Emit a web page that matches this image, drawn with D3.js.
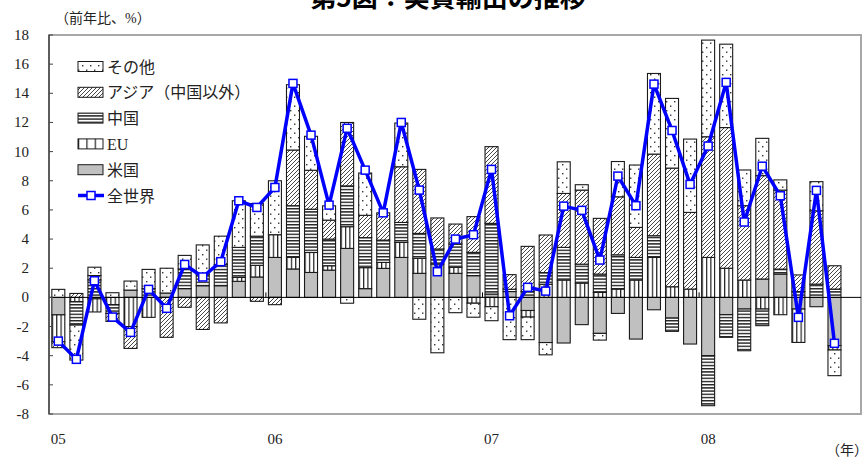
<!DOCTYPE html>
<html><head><meta charset="utf-8">
<script src="https://cdn.jsdelivr.net/npm/d3@7"></script>
<style>body{margin:0;background:#fff}svg{display:block}</style>
</head><body>
<svg id="chart" width="867" height="459"></svg>
<script>
// Months Jan 2005 – Aug 2008
const months = [
  "05/01","05/02","05/03","05/04","05/05","05/06","05/07","05/08","05/09","05/10","05/11","05/12",
  "06/01","06/02","06/03","06/04","06/05","06/06","06/07","06/08","06/09","06/10","06/11","06/12",
  "07/01","07/02","07/03","07/04","07/05","07/06","07/07","07/08","07/09","07/10","07/11","07/12",
  "08/01","08/02","08/03","08/04","08/05","08/06","08/07","08/08"
];
// Contributions by destination (percentage points, y/y)
const usa = [
  -1.2, 0, -0.1, 0, 0.5, 0, 0.3, 0.6, 0.8, 0.8, 1.1, 1.4,
  2.74, 1.95, 1.71, 1.87, 3.36, 0.6, 1.99, 2.74, 1.65, 2.29, 1.65, 1.49,
  0.23, 0.4, -0.9, -3.1, -3.13, -1.87, -2.47, -1.1, -2.86, -0.85, -1.42, -3.2,
  -4.0, -1.19, -0.8, 1.26, 1.6, -0.8, -0.64, -3.31
];
const eu = [
  -1.85, -0.3, -0.9, -0.5, -2.0, -1.37, 0, 0, 0, 0, 0.27, 0.8,
  1.56, 0.8, 1.37, 0.3, 1.49, 1.44, 0.41, 1.03, 1.03, 0, 0.41, -0.4,
  -0.64, 0, -0.45, 0.9, 1.19, 0.98, 0.34, 0.57, 1.19, 2.74, 0.73, 0.57,
  2.74, 2.0, 1.19, -0.8, -1.19, -2.29, 0, -0.3
];
const china = [
  0, -1.6, 1.2, -0.6, 0, 0.6, 0, 1.35, 0.8, 1.45, 2.06, 2.0,
  0, 3.54, 2.97, 1.83, 2.8, 2.06, 1.53, 1.37, 1.71, 1.03, 1.6, 1.6,
  4.85, 0.16, 0.4, 0.8, 2.24, 1.3, 1.26, 2.35, 1.55, 1.49, -0.91, 0,
  -3.43, -1.55, -2.86, -1.14, 0.34, 0.4, 0.91, 0.57
];
const asia = [
  -0.4, 0.27, 0.3, -0.55, -1.5, 0, -2.74, -0.68, -2.2, -1.75, 0, -0.27,
  -0.5, 3.82, 2.67, 1.3, 4.35, 1.53, 1.87, 3.82, 4.39, 2.13, 1.37, 2.45,
  5.26, 1.0, 3.1, 2.58, 3.7, 5.08, 3.82, 3.98, 2.06, 5.6, 8.14, 5.26,
  8.28, 9.65, 5.1, 7.09, 5.42, 1.14, 5.03, 1.6
];
const other = [
  0.55, -2.4, 0.57, 0.32, 0.62, 1.32, 1.7, 0.93, 2.0, 1.95, 3.2, 2.24,
  3.7, 4.48, 2.33, 0.98, -0.4, 2.9, 0, 3.0, -1.5, -3.8, -1.05, -0.96,
  -0.96, -2.9, -1.55, -0.84, 2.17, 0.37, -0.46, 2.42, 4.28, 5.53, 4.78, 5.03,
  6.63, 5.72, 2.45, 2.56, 0.7, 0, 2.0, -1.76
];
// Total real exports, y/y %
const world = [
  -3.0, -4.25, 1.14, -1.35, -2.4, 0.55, -0.75, 2.26, 1.4, 2.45, 6.63, 6.17,
  7.54, 14.68, 11.13, 6.33, 11.6, 8.73, 5.8, 12.0, 7.36, 1.76, 4.0, 4.3,
  8.78, -1.26, 0.69, 0.43, 6.26, 5.97, 2.56, 8.32, 6.29, 14.63, 11.45, 7.75,
  10.38, 14.75, 5.17, 9.0, 6.97, -1.37, 7.34, -3.15
];
const yTickValues = [-8, -6, -4, -2, 0, 2, 4, 6, 8, 10, 12, 14, 16, 18];
const yearLabels = ["05", "06", "07", "08"];
const yearStarts = ["05/01", "06/01", "07/01", "08/01"];

const seriesKeys = ["usa", "eu", "china", "asia", "other"];
const seriesNames = { usa: "米国", eu: "EU", china: "中国", asia: "アジア（中国以外）", other: "その他" };
const seriesFill = { usa: "#c0c0c0", eu: "url(#p-vert)", china: "url(#p-horiz)", asia: "url(#p-diag)", other: "url(#p-dots)" };

const rows = months.map((m, i) => ({
  month: m, usa: usa[i], eu: eu[i], china: china[i], asia: asia[i], other: other[i], world: world[i]
}));

const svg = d3.select("#chart");
const plot = { left: 49, right: 861, top: 35, bottom: 414 };

const x = d3.scaleBand().domain(months).range([49.3, 843.5]).paddingInner(0.28).paddingOuter(0.14);
const y = d3.scaleLinear().domain([-8, 18]).range([plot.bottom, plot.top]);
const cx = m => x(m) + x.bandwidth() / 2;

// Fill patterns
const defs = svg.append("defs");
const pDots = defs.append("pattern").attr("id", "p-dots").attr("patternUnits", "userSpaceOnUse")
  .attr("width", 8).attr("height", 9);
pDots.append("rect").attr("width", 8).attr("height", 9).attr("fill", "#fff");
pDots.append("rect").attr("x", 2).attr("y", 2).attr("width", 1.4).attr("height", 1.4).attr("fill", "#333");
pDots.append("rect").attr("x", 6).attr("y", 6.5).attr("width", 1.4).attr("height", 1.4).attr("fill", "#333");

const pDiag = defs.append("pattern").attr("id", "p-diag").attr("patternUnits", "userSpaceOnUse")
  .attr("width", 4).attr("height", 4);
pDiag.append("rect").attr("width", 4).attr("height", 4).attr("fill", "#fff");
pDiag.append("path").attr("d", "M-1,1 l2,-2 M0,4 l4,-4 M3,5 l2,-2").attr("stroke", "#333").attr("stroke-width", 0.9);

const pHoriz = defs.append("pattern").attr("id", "p-horiz").attr("patternUnits", "userSpaceOnUse")
  .attr("width", 4).attr("height", 3.2);
pHoriz.append("rect").attr("width", 4).attr("height", 3.2).attr("fill", "#fff");
pHoriz.append("rect").attr("width", 4).attr("height", 1.4).attr("fill", "#222");

const pVert = defs.append("pattern").attr("id", "p-vert").attr("patternUnits", "objectBoundingBox")
  .attr("width", 1 / 3).attr("height", 1);
pVert.append("rect").attr("width", 40).attr("height", 2000).attr("fill", "#fff");
pVert.append("rect").attr("x", 0).attr("width", 1.2).attr("height", 2000).attr("fill", "#222");

// Title (its upper part lies above the top edge of the page)
svg.append("text").attr("x", 448).attr("y", 6.5).attr("text-anchor", "middle")
  .attr("font-family", "'Noto Sans CJK JP', sans-serif").attr("font-weight", "bold").attr("font-size", 26)
  .attr("fill", "#000").text("第5図：実質輸出の推移");

svg.append("text").attr("x", 55).attr("y", 23)
  .attr("font-family", "'Liberation Serif', 'Noto Sans CJK JP', serif").attr("font-size", 14)
  .attr("fill", "#222").text("（前年比、%）");

// Frame
svg.append("rect").attr("x", plot.left).attr("y", plot.top)
  .attr("width", plot.right - plot.left).attr("height", plot.bottom - plot.top)
  .attr("fill", "none").attr("stroke", "#a8a8a8").attr("stroke-width", 2);

// Stacked bars (positive and negative parts stacked separately)
const stack = d3.stack().keys(seriesKeys).offset(d3.stackOffsetDiverging);
const layers = stack(rows);

const barG = svg.append("g");
layers.forEach(layer => {
  barG.selectAll(null).data(layer.filter(d => d[1] !== d[0])).enter().append("rect")
    .attr("x", d => x(d.data.month))
    .attr("width", x.bandwidth())
    .attr("y", d => y(Math.max(d[0], d[1])))
    .attr("height", d => Math.abs(y(d[0]) - y(d[1])))
    .attr("fill", seriesFill[layer.key])
    .attr("stroke", "#1a1a1a").attr("stroke-width", 1.1);
});

// Zero line and year marks on it
svg.append("line").attr("x1", plot.left).attr("x2", plot.right)
  .attr("y1", y(0)).attr("y2", y(0)).attr("stroke", "#000").attr("stroke-width", 1);
svg.selectAll(null).data(yearStarts.slice(1)).enter().append("line")
  .attr("x1", m => x(m) - x.step() * x.paddingInner() / 2)
  .attr("x2", m => x(m) - x.step() * x.paddingInner() / 2)
  .attr("y1", y(0)).attr("y2", y(0) - 5).attr("stroke", "#000").attr("stroke-width", 1);

// Left axis with inward ticks
const yAxis = svg.append("g");
yAxis.append("line").attr("x1", plot.left).attr("x2", plot.left)
  .attr("y1", plot.top).attr("y2", plot.bottom).attr("stroke", "#444").attr("stroke-width", 1.5);
yAxis.selectAll(null).data(yTickValues).enter().append("line")
  .attr("x1", plot.left).attr("x2", plot.left + 4)
  .attr("y1", d => y(d)).attr("y2", d => y(d)).attr("stroke", "#444").attr("stroke-width", 1);
yAxis.selectAll(null).data(yTickValues).enter().append("text")
  .attr("x", 29).attr("y", d => y(d) + 5).attr("text-anchor", "end")
  .attr("font-family", "'Liberation Serif', serif").attr("font-size", 15).attr("fill", "#222")
  .text(d => d);

// Year labels
svg.selectAll(null).data(yearLabels).enter().append("text")
  .attr("x", (d, i) => cx(yearStarts[i])).attr("y", 444).attr("text-anchor", "middle")
  .attr("font-family", "'Liberation Serif', serif").attr("font-size", 15).attr("fill", "#222")
  .text(d => d);
svg.append("text").attr("x", 868).attr("y", 455).attr("text-anchor", "end")
  .attr("font-family", "'Noto Sans CJK JP', serif").attr("font-size", 14).attr("fill", "#222")
  .text("（年）");

// World line with square markers
const lineGen = d3.line().x(d => cx(d.month)).y(d => y(d.world));
svg.append("path").datum(rows).attr("d", lineGen)
  .attr("fill", "none").attr("stroke", "#0000ff").attr("stroke-width", 3.5).attr("stroke-linejoin", "round");
svg.selectAll(null).data(rows).enter().append("rect")
  .attr("x", d => cx(d.month) - 4).attr("y", d => y(d.world) - 4)
  .attr("width", 8).attr("height", 8)
  .attr("fill", "#fff").attr("stroke", "#0000ff").attr("stroke-width", 1.5);

// Legend
const legendItems = ["other", "asia", "china", "eu", "usa", "world"];
const legendNames = Object.assign({}, seriesNames, { world: "全世界" });
const lg = svg.append("g");
legendItems.forEach((k, i) => {
  const cy = 66.5 + i * 25.8;
  if (k === "world") {
    lg.append("line").attr("x1", 78).attr("x2", 104).attr("y1", cy).attr("y2", cy)
      .attr("stroke", "#0000ff").attr("stroke-width", 3.5);
    lg.append("rect").attr("x", 87).attr("y", cy - 4).attr("width", 8).attr("height", 8)
      .attr("fill", "#fff").attr("stroke", "#0000ff").attr("stroke-width", 1.5);
  } else {
    lg.append("rect").attr("x", 78).attr("y", cy - 5).attr("width", 25).attr("height", 10)
      .attr("fill", seriesFill[k]).attr("stroke", "#1a1a1a").attr("stroke-width", 1);
  }
  lg.append("text").attr("x", 107).attr("y", cy + 6)
    .attr("font-family", "'Liberation Serif', 'Noto Sans CJK JP', serif").attr("font-size", 16)
    .attr("fill", "#222").text(legendNames[k]);
});
</script>
</body></html>
